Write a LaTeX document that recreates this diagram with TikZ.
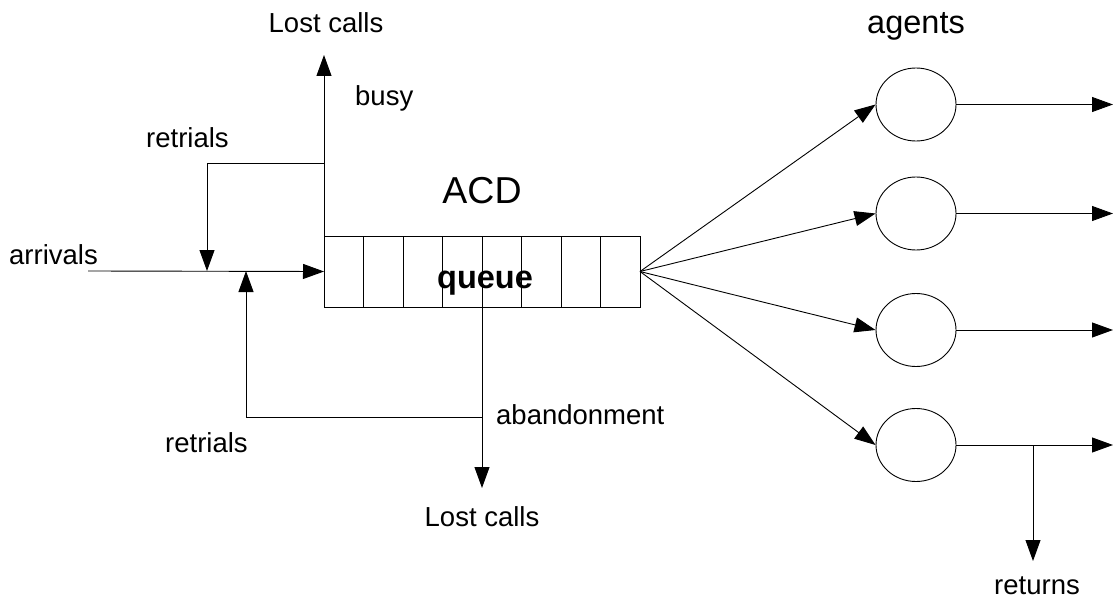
\documentclass[tikz,border=0pt]{standalone}
\usepackage{fontspec}
\setmainfont{Liberation Sans}
\usetikzlibrary{arrows.meta,shapes.geometric,calc}

\tikzset{
  flow/.style={draw=black, line width=0.9pt, -{Triangle[length=21pt,width=15pt]}},
  wire/.style={draw=black, line width=0.9pt},
  lbl/.style={inner sep=0pt, font=\fontsize{27.5}{31}\selectfont},
  agent/.style={draw=black, line width=0.9pt, ellipse, minimum width=80pt, minimum height=73pt, inner sep=0pt},
}

\begin{document}
\begin{tikzpicture}[x=1pt, y=-1pt]
\useasboundingbox (0,0) rectangle (1114,599);

% ACD queue with eight cells
\node[wire, rectangle, anchor=north west, minimum width=316pt, minimum height=71pt,
      inner sep=0pt, outer sep=0pt] (q) at (324,236) {};
\foreach \k in {1,...,7}
  \draw[wire] ($(q.north west)+(39.5*\k,0)$) coordinate (c\k) -- ($(q.south west)+(39.5*\k,0)$);
\node[inner sep=0pt, anchor=base, font=\bfseries\fontsize{32.5}{36}\selectfont] (qlbl) at (485,288) {queue};
\node[inner sep=0pt, anchor=base, font=\fontsize{37.5}{42}\selectfont] (acd) at (482,203) {ACD};

% arrivals
\coordinate (src) at (88,271);
\node[lbl, anchor=base west] (arrl) at (9,264) {arrivals};
\draw[flow] (src) -- (q.west);

% busy: lost calls and retrials
\coordinate (busyTip) at (324,55);
\coordinate (busyJ) at (324,163);
\coordinate (mergeA) at (207,271);
\node[lbl, anchor=base] (lostTop) at (326,33) {Lost calls};
\node[lbl, anchor=base west] (busyl) at (355,106) {busy};
\node[lbl, anchor=base west] (retTop) at (146,148) {retrials};
\draw[flow] (q.north west) -- (busyTip);
\draw[flow] (busyJ) -| (mergeA);

% abandonment: lost calls and retrials
\coordinate (abTop) at (482,307);
\coordinate (abJ) at (482,417);
\coordinate (abTip) at (482,488);
\coordinate (mergeB) at (246,271);
\node[lbl, anchor=base west] (abl) at (496,424) {abandonment};
\node[lbl, anchor=base west] (retBot) at (165,452) {retrials};
\node[lbl, anchor=base] (lostBot) at (482,526) {Lost calls};
\draw[flow] (abTop) -- (abTip);
\draw[flow] (abJ) -| (mergeB);

% agents
\node[inner sep=0pt, anchor=base, font=\fontsize{32.5}{36}\selectfont] (agl) at (916,34) {agents};
\node[agent] (a1) at (916,104.5) {};
\node[agent] (a2) at (916,213.5) {};
\node[agent] (a3) at (916,330) {};
\node[agent] (a4) at (916,445) {};

\foreach \i/\y in {1/104.5,2/213.5,3/330,4/445} {
  \draw[flow] (q.east) -- (a\i.west);
  \coordinate (out\i) at (1113,\y);
  \draw[flow] (a\i.east) -- (out\i);
}

% returns
\coordinate (retJ) at (1033,445);
\coordinate (retTip) at (1033,561);
\node[lbl, anchor=base] (retl) at (1037,594) {returns};
\draw[flow] (retJ) -- (retTip);
\end{tikzpicture}
\end{document}
